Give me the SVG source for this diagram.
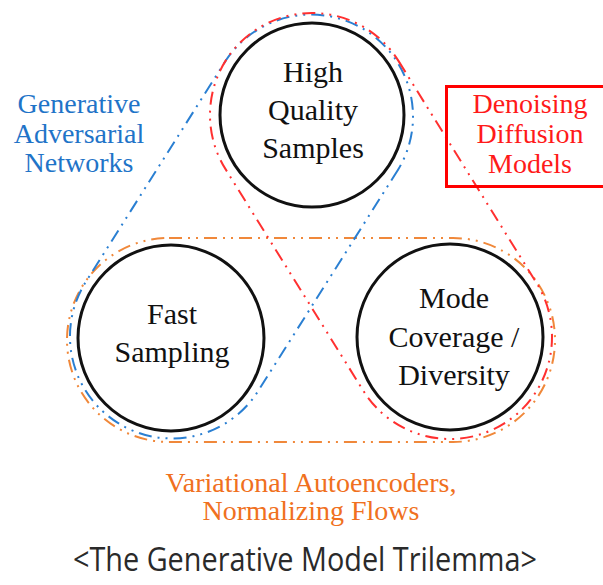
<svg xmlns="http://www.w3.org/2000/svg" width="603" height="585" viewBox="0 0 603 585">
  <style>
    .node circle { fill: none; stroke: #111; stroke-width: 3; }
    .node text { font-family: "Liberation Serif", "Times New Roman", serif; font-size: 30px; fill: #111; text-anchor: middle; }
    .hull { fill: none; stroke-width: 2; stroke-dasharray: 13 6 2 6 2 6; }
    .lbl { font-family: "Liberation Serif", "Times New Roman", serif; font-size: 28px; text-anchor: middle; }
    .gan { stroke: #2a7fd2; }
    .ddm { stroke: #ff3030; }
    .vae { stroke: #f0883a; }
  </style>
  <rect width="603" height="585" fill="#fff"/>

  <!-- family hulls around pairs of properties -->
  <g id="connectors">
    <path class="hull vae" d="M169,238 H453 A102,102 0 0 1 453,442 H169 A102,102 0 0 1 169,238 Z"/>
    <path class="hull gan" d="M398.2,169.5 L257.2,392.5 A102,102 0 0 1 84.8,283.5 L225.8,60.5 A102,102 0 0 1 398.2,169.5 Z"/>
    <path class="hull ddm" d="M398.6,61.1 L536.6,283.1 A102,102 0 0 1 363.4,390.9 L225.4,168.9 A102,102 0 0 1 398.6,61.1 Z"/>
  </g>

  <g id="node-quality" class="node">
    <circle cx="312" cy="115" r="92"/>
    <text x="313" y="82">High</text>
    <text x="313" y="120">Quality</text>
    <text x="313" y="158">Samples</text>
  </g>
  <g id="node-fast" class="node">
    <circle cx="171" cy="338" r="93"/>
    <text x="172" y="324">Fast</text>
    <text x="172" y="362">Sampling</text>
  </g>
  <g id="node-diversity" class="node">
    <circle cx="450" cy="337" r="93"/>
    <text x="454" y="308">Mode</text>
    <text x="454" y="347">Coverage /</text>
    <text x="454" y="385">Diversity</text>
  </g>

  <g id="label-gan" class="lbl" fill="#1f74c8">
    <text x="79" y="113">Generative</text>
    <text x="79" y="143">Adversarial</text>
    <text x="79" y="172">Networks</text>
  </g>

  <g id="label-ddm">
    <rect x="446.5" y="86.5" width="160" height="100" fill="none" stroke="#ff0000" stroke-width="3"/>
    <g class="lbl" fill="#ff1a1a">
      <text x="530" y="113">Denoising</text>
      <text x="530" y="143">Diffusion</text>
      <text x="530" y="173">Models</text>
    </g>
  </g>

  <g id="label-vae" class="lbl" fill="#f07020">
    <text x="311" y="492">Variational Autoencoders,</text>
    <text x="311" y="520">Normalizing Flows</text>
  </g>

  <text id="caption" x="305" y="571" font-family="'Open Sans', 'Noto Sans', sans-serif" font-size="33" fill="#2a2a2a" text-anchor="middle" textLength="464" lengthAdjust="spacingAndGlyphs">&lt;The Generative Model Trilemma&gt;</text>
</svg>
